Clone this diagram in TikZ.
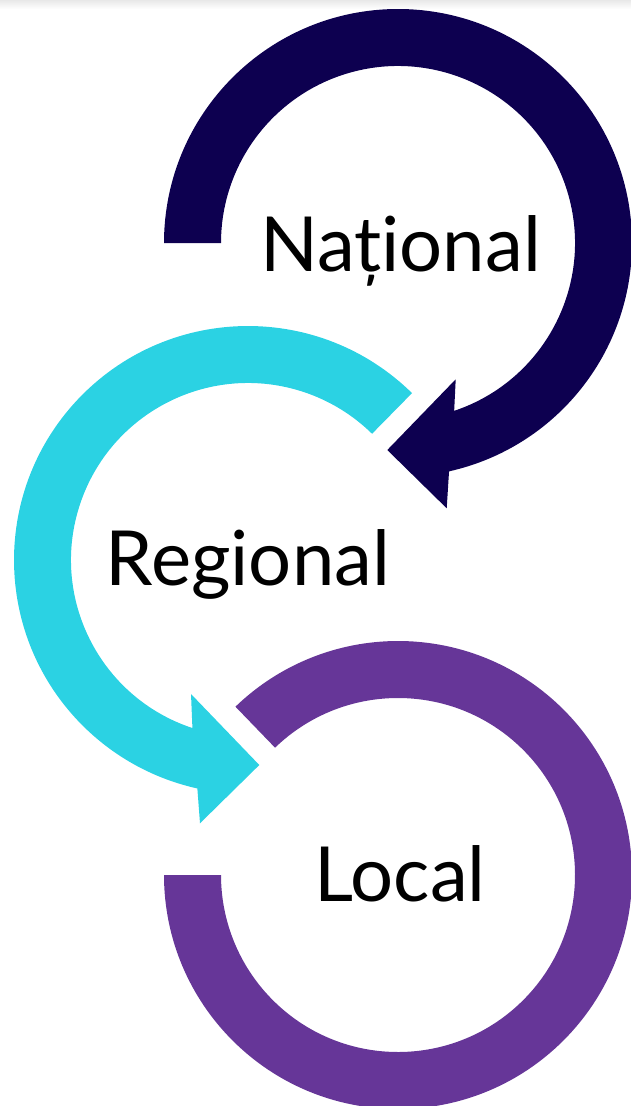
\documentclass[tikz,border=0pt]{standalone}
\usepackage{fontspec}
\setmainfont{Lato}
\usepackage{tikz}
\definecolor{natcol}{HTML}{0D0050}
\definecolor{regcol}{HTML}{2BD2E3}
\definecolor{loccol}{HTML}{663698}

\begin{document}
\begin{tikzpicture}[x=1pt,y=1pt]
\tikzstyle{lvl}=[font=\fontsize{76}{82}\selectfont,inner sep=0pt,anchor=base,text=black]
\tikzstyle{ring}=[draw=none]
\useasboundingbox (0,0) rectangle (631,-1106);
\clip (0,0) rectangle (631,-1106);
\shade [top color=black!9,bottom color=white] (0,0) rectangle (631,-9);
% circle centres
\coordinate (cn) at (398,-243);
\coordinate (cr) at (248,-560);
\coordinate (cl) at (398,-875);
% local ring
\fill [ring,loccol] ([shift={(180:234)}]cl) arc [start angle=180,end angle=494,radius=234]
  -- ([shift={(494:177)}]cl) arc [start angle=494,end angle=180,radius=177] -- cycle;
% regional arrow
\fill [ring,regcol] ([shift={(45.5:234)}]cr) arc [start angle=45.5,end angle=257.5,radius=234]
  -- (200,-823.3) -- (259.3,-765) -- (191,-694)
  -- ([shift={(251.7:177)}]cr) arc [start angle=251.7,end angle=45.5,radius=177] -- cycle;
% national arrow
\fill [ring,natcol] ([shift={(180:234)}]cn) arc [start angle=180,end angle=-77.4,radius=234]
  -- (446.7,-508.3) -- (387.3,-450) -- (455.7,-379.3)
  -- ([shift={(-71.5:177)}]cn) arc [start angle=-71.5,end angle=180,radius=177] -- cycle;
\node [lvl] (national) at (400.5,-271.7) {Național};
\node [lvl] (regional) at (248,-585) {Regional};
\node [lvl] (local) at (400,-901.7) {Local};
\end{tikzpicture}
\end{document}
